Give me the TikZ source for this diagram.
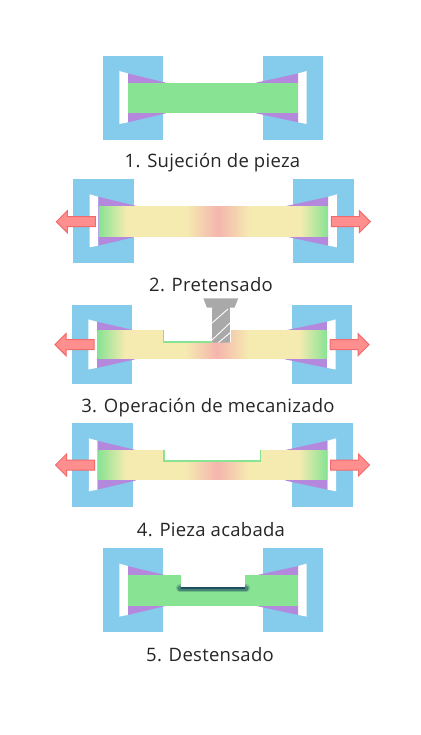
\documentclass[tikz,border=0pt]{standalone}
\usepackage{fontspec}
\setmainfont[LetterSpace=1.5]{Open Sans}
\definecolor{clampblue}{HTML}{85CBEC}
\definecolor{wedgepurple}{HTML}{B488DC}
\definecolor{relaxgreen}{HTML}{88E393}
\definecolor{stressyellow}{HTML}{F5EBB0}
\definecolor{stresspink}{HTML}{F5B5AE}
\definecolor{pullfill}{HTML}{FF8F8F}
\definecolor{pullline}{HTML}{F26A6A}
\definecolor{toolgray}{HTML}{A9A9A9}
\definecolor{edgedark}{HTML}{1E4F60}
\pgfdeclarehorizontalshading{stressbar}{100bp}{
  color(0bp)=(relaxgreen); color(25bp)=(relaxgreen); color(31bp)=(stressyellow);
  color(44bp)=(stressyellow); color(51bp)=(stresspink); color(58bp)=(stressyellow);
  color(69bp)=(stressyellow); color(75bp)=(relaxgreen); color(100bp)=(relaxgreen)}
\tikzset{
  steplabel/.style={font=\fontsize{18.5}{20}\selectfont,text=black!85,inner sep=0pt,anchor=base},
  pullarrow/.style={fill=pullfill,draw=pullline,line width=1pt,line join=miter},
  stressfill/.style={shading=stressbar},
  cutedge/.style={draw=relaxgreen,line width=1.8pt,line cap=butt}
}
\begin{document}
\begin{tikzpicture}[x=1pt,y=-1pt]
\useasboundingbox (0,0) rectangle (420,735);
% clamps, one pair per step
\foreach \cx/\py/\sy/\px in {213/0/1/0,213.3/123.3/1/29.9,212/252.4/0.944/29.9,212.5/367.3/1/29.9,213/492.6/1/0} {
  \foreach \side in {-1,1} {
    \begin{scope}[shift={(\cx+\side*\px,\py)},xscale=-\side,yscale=\sy]
      \fill[clampblue] (-110.3,55.7) rectangle (-49.7,139.7);
      \fill[white] (-93.7,71) -- (-85,73.5) -- (-85,122.3) -- (-93.7,124) -- cycle;
      \fill[wedgepurple] (-85,73.5) -- (-45+2*\side,82.7) -- (-45+2*\side,113.3) -- (-85,122.3) -- cycle;
    \end{scope}
  }
}
% step 1
\fill[relaxgreen] (128,82.7) rectangle (298,113.3);
% step 2
\shade[stressfill] (99,206.7) rectangle (327.7,236.9);
% step 3
\shade[stressfill] (97.7,330) rectangle (326.7,358.7);
\fill[white] (163.5,329) rectangle (230.7,341.7);
\path[cutedge] (163.5,330) -- (163.5,341.7) -- (212,341.7);
% step 4
\shade[stressfill] (98.3,450) rectangle (326.7,479.5);
\fill[white] (164,449) rectangle (260.5,460.7);
\path[cutedge] (164,450) -- (164,460.7) -- (260.5,460.7) -- (260.5,450);
% step 5
\fill[relaxgreen] (128,575.3) rectangle (298,605.9);
\draw[edgedark,opacity=0.25,line width=8pt,line cap=round] (180,588.2) -- (246,588.2);
\draw[edgedark,opacity=0.5,line width=5pt,line cap=round] (180,588.2) -- (246,588.2);
\fill[white] (181,570) rectangle (245.3,586.7);
\draw[edgedark,line width=2.2pt] (181,587.8) -- (245.3,587.8);
% arrows on top of the bars
\foreach \cx/\py in {213.3/221.7,212/344.7,212.5/465} {
  \foreach \side in {-1,1} {
    \begin{scope}[shift={(\cx,\py)},xscale=\side]
      \draw[pullarrow] (118,-5) -- (146,-5) -- (146,-11) -- (157,0) -- (146,11) -- (146,5) -- (118,5) -- cycle;
    \end{scope}
  }
}
% cutter
\fill[toolgray] (203.3,298.3) -- (238.3,298.3) -- (234.5,307.7) -- (207,307.7) -- cycle;
\begin{scope}
  \clip[rounded corners=2pt] (211.7,307) -- (230.7,307) -- (230.7,342.7) -- (211.7,342.7) -- cycle;
  \fill[toolgray] (211.7,307) rectangle (230.7,343);
  \draw[white,line width=0.9pt] (212,323) -- (228,309);
  \draw[white,line width=0.9pt] (212,340) -- (231,322);
  \draw[white,line width=0.9pt] (218,343) -- (231,332);
\end{scope}
% labels
\node[steplabel] (stepone) at (212.5,167.5) {1. Sujeción de pieza};
\node[steplabel] (steptwo) at (211,291) {2. Pretensado};
\node[steplabel] (stepthree) at (208,412) {3. Operación de mecanizado};
\node[steplabel] (stepfour) at (211,536) {4. Pieza acabada};
\node[steplabel] (stepfive) at (210,661.5) {5. Destensado};
\end{tikzpicture}
\end{document}
